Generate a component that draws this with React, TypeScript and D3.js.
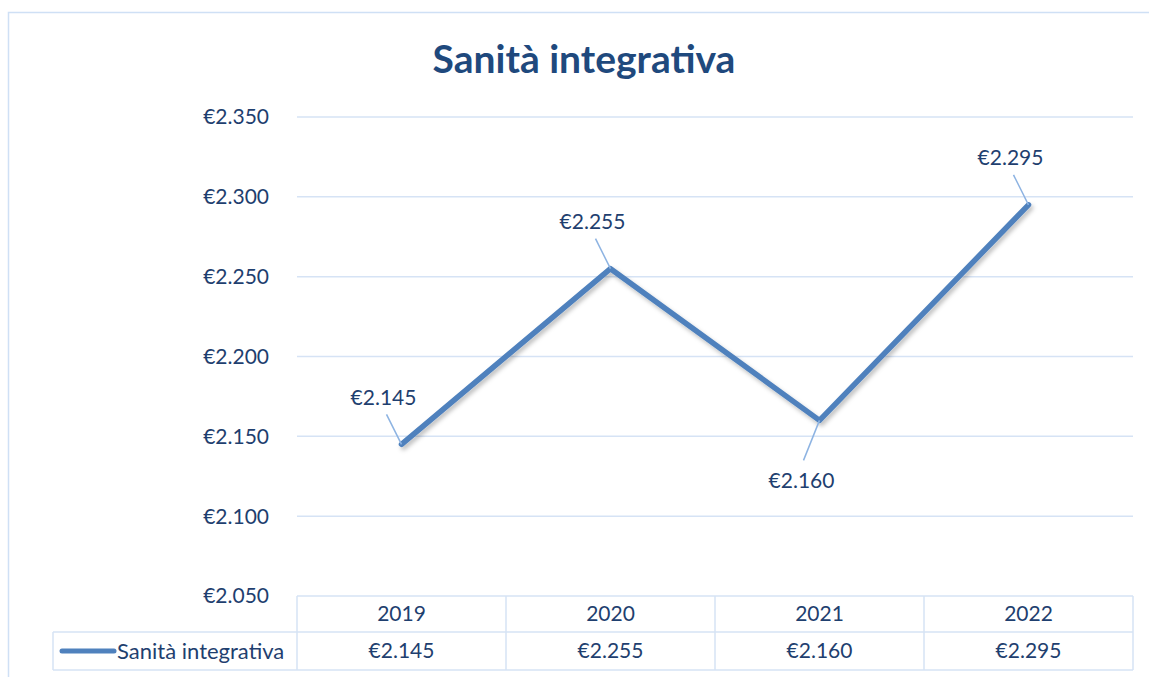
import React from "react";
import * as d3 from "d3";

const title = "Sanità integrativa";
const seriesName = "Sanità integrativa";
const categories = ["2019", "2020", "2021", "2022"];
const values = [2145, 2255, 2160, 2295];
const yTicks = [2050, 2100, 2150, 2200, 2250, 2300, 2350];
// label placement relative to point
const labelPos = ["above", "above", "below", "above"];

const fmt = (v: number) => {
  const s = String(Math.round(v));
  return "€" + s.slice(0, s.length - 3) + "." + s.slice(-3);
};

export default function App() {
  const W = 1149, H = 677;
  const left = 297, right = 1133, top = 117, bottom = 596;
  const font = "Lato, 'Open Sans', sans-serif";
  const textColor = "#1f3f6f";
  const gridColor = "#d6e3f5";
  const lineColor = "#4f81bd";
  const fs = 21;

  const x = d3.scaleBand<string>().domain(categories).range([left, right]);
  const y = d3.scaleLinear().domain([2050, 2350]).range([bottom, top]);
  const line = d3.line<number>()
    .x((_, i) => (x(categories[i]) as number) + x.bandwidth() / 2)
    .y((d) => y(d));

  const row1Bottom = 632, row2Bottom = 670, legendLeft = 53;

  return (
    <svg width={W} height={H} style={{ position: "absolute", left: 0, top: 0 }} fontFamily={font}>
      <defs>
        <filter id="sh" x="-10%" y="-10%" width="120%" height="120%">
          <feDropShadow dx="2" dy="3" stdDeviation="2" floodColor="#000" floodOpacity="0.25" />
        </filter>
      </defs>
      <rect x={0} y={0} width={W} height={H} fill="#fff" />
      <path d={`M8.5,${H} V12.5 H${W}`} fill="none" stroke="#cfe0f5" strokeWidth={1.5} />
      <text x={584} y={73} textAnchor="middle" fontSize={39} fontWeight="bold" fill="#1f497d">{title}</text>
      {yTicks.map((t) => (
        <g key={t}>
          {t !== 2050 && <line x1={left} x2={right} y1={y(t)} y2={y(t)} stroke={gridColor} strokeWidth={1.5} />}
          <text x={269} y={y(t)} dy="0.35em" textAnchor="end" fontSize={fs} fill={textColor}>{fmt(t)}</text>
        </g>
      ))}
      {/* table */}
      <g stroke={gridColor} strokeWidth={1.5} fill="none">
        <line x1={left} x2={right} y1={bottom} y2={bottom} />
        <line x1={legendLeft} x2={right} y1={row1Bottom} y2={row1Bottom} />
        <line x1={legendLeft} x2={right} y1={row2Bottom} y2={row2Bottom} />
        <line x1={legendLeft} x2={legendLeft} y1={row1Bottom} y2={row2Bottom} />
        {categories.map((c) => (
          <line key={c} x1={x(c)} x2={x(c)} y1={bottom} y2={row2Bottom} />
        ))}
        <line x1={right} x2={right} y1={bottom} y2={row2Bottom} />
      </g>
      {categories.map((c, i) => (
        <g key={c}>
          <text x={(x(c) as number) + x.bandwidth() / 2} y={(bottom + row1Bottom) / 2} dy="0.35em" textAnchor="middle" fontSize={fs} fill={textColor}>{c}</text>
          <text x={(x(c) as number) + x.bandwidth() / 2} y={(row1Bottom + row2Bottom) / 2} dy="0.35em" textAnchor="middle" fontSize={fs} fill={textColor}>{fmt(values[i])}</text>
        </g>
      ))}
      <line x1={62} x2={114} y1={651} y2={651} stroke={lineColor} strokeWidth={5} strokeLinecap="round" />
      <text x={117} y={651} dy="0.35em" fontSize={22} fill={textColor}>{seriesName}</text>
      {/* line */}
      <path d={line(values) as string} fill="none" stroke={lineColor} strokeWidth={5.5} strokeLinecap="round" strokeLinejoin="round" filter="url(#sh)" />
      {/* leader lines and labels */}
      {values.map((v, i) => {
        const cx = (x(categories[i]) as number) + x.bandwidth() / 2;
        const cy = y(v);
        const above = labelPos[i] === "above";
        const lx = cx - 18;
        const ly = above ? cy - 47 : cy + 60;
        return (
          <g key={i}>
            <line x1={cx} y1={cy} x2={above ? cx - 15 : cx - 16} y2={above ? cy - 30 : cy + 40} stroke="#8db3e2" strokeWidth={1.5} />
            <text x={lx} y={ly} dy="0.35em" textAnchor="middle" fontSize={fs} fill={textColor}>{fmt(v)}</text>
          </g>
        );
      })}
    </svg>
  );
}
